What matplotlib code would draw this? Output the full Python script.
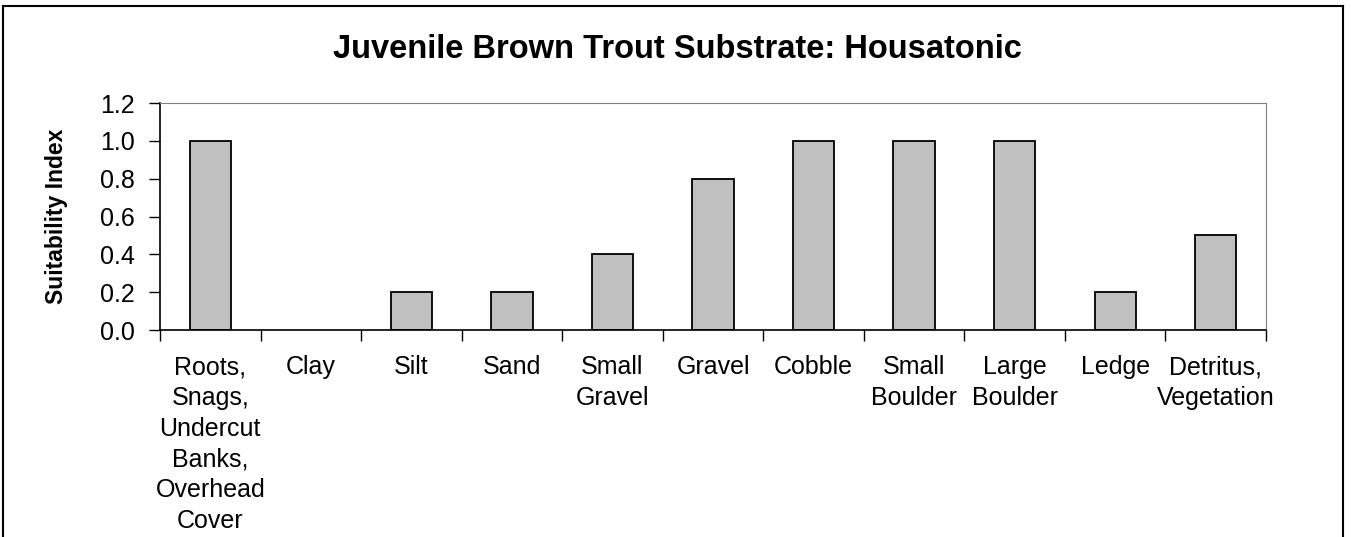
import numpy as np
import matplotlib
matplotlib.use('Agg')
import matplotlib.pyplot as plt
from matplotlib.lines import Line2D

plt.rcParams['font.family'] = ['Liberation Sans', 'DejaVu Sans']

categories = ['Roots,\nSnags,\nUndercut\nBanks,\nOverhead\nCover', 'Clay', 'Silt', 'Sand',
              'Small\nGravel', 'Gravel', 'Cobble', 'Small\nBoulder', 'Large\nBoulder',
              'Ledge', 'Detritus,\nVegetation']
suitability = [1.0, 0.0, 0.2, 0.2, 0.4, 0.8, 1.0, 1.0, 1.0, 0.2, 0.5]
yticks = [0.0, 0.2, 0.4, 0.6, 0.8, 1.0, 1.2]

W, H = 1351, 537
fig = plt.figure(figsize=(W/100, H/100), dpi=100)
ax = fig.add_axes([160/W, 1-330/H, (1266-160)/W, (330-103)/H])

x = np.arange(len(categories))
edges = ['black' if v > 0 else 'none' for v in suitability]
ax.bar(x, suitability, width=0.41, color='#C0C0C0', edgecolor=edges, linewidth=1.3)
ax.set_xlim(-0.5, len(categories)-0.5)
ax.set_ylim(0, 1.2)
ax.set_yticks(yticks)
ax.set_yticklabels([f'{v:.1f}' for v in yticks], fontsize=18)
ax.set_xticks(np.arange(-0.5, len(categories)))
ax.set_xticklabels([])
ax.set_xticks(x, minor=True)
ax.set_xticklabels(categories, minor=True, fontsize=18, linespacing=1.36)
ax.tick_params(axis='x', which='minor', length=0, pad=18)
ax.tick_params(axis='x', which='major', length=8, width=1, direction='out')
ax.tick_params(axis='y', length=8, width=1, direction='out', pad=10)
ax.set_ylabel('Suitability Index', fontsize=16.5, fontweight='bold')
ax.yaxis.set_label_coords((68-160)/(1266-160), 0.5)
for s in ['top', 'right']:
    ax.spines[s].set_color('#808080')
for s in ['left', 'bottom']:
    ax.spines[s].set_color('black')
    ax.spines[s].set_linewidth(1.2)

fig.text(0.5*(318+1036)/W, 1-49/H, 'Juvenile Brown Trout Substrate: Housatonic',
         ha='center', va='center', fontsize=23.5, fontweight='bold')

# outer chart frame
fx0, fx1, fy1 = 3/W, 1343/W, 1-6/H
for xs, ys in [([fx0, fx0], [-0.1, fy1]), ([fx0, fx1], [fy1, fy1]), ([fx1, fx1], [fy1, -0.1])]:
    fig.add_artist(Line2D(xs, ys, color='black', linewidth=1.5, transform=fig.transFigure))

fig.savefig('out.png', dpi=100)
